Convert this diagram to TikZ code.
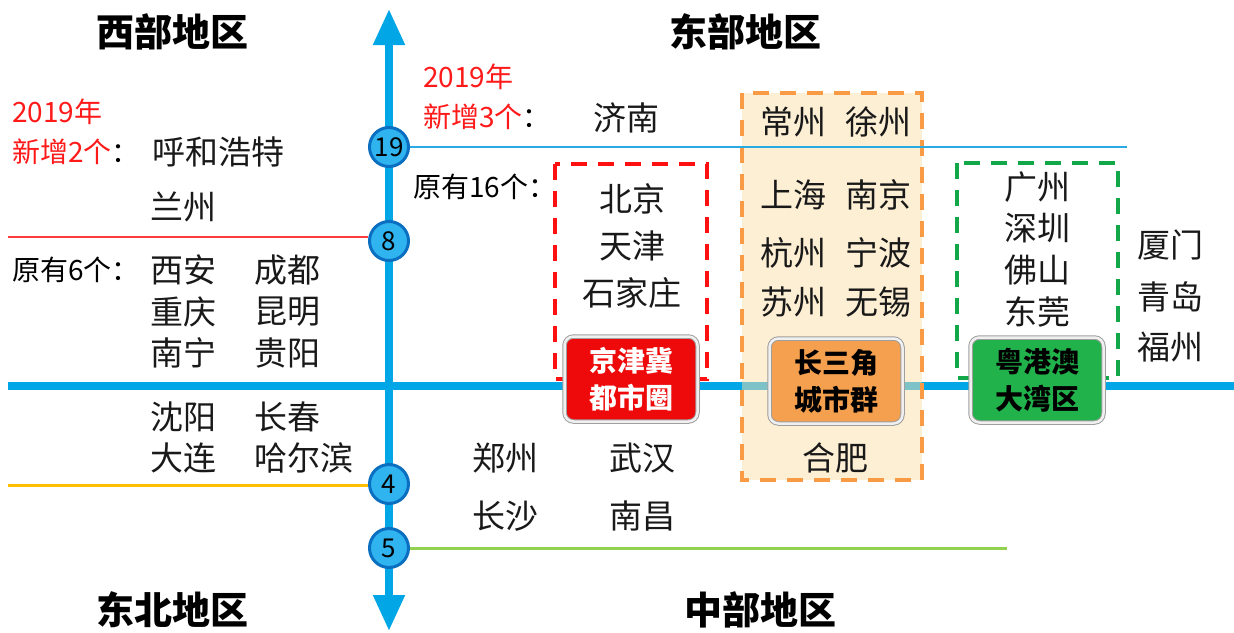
\documentclass[tikz,border=0pt]{standalone}
\usepackage{fontspec}
\setmainfont{Noto Sans CJK SC}
\usetikzlibrary{arrows.meta}
\definecolor{axisblue}{HTML}{00A6E6}
\definecolor{circfill}{HTML}{30B4F0}
\definecolor{circdraw}{HTML}{0A6FC0}
\definecolor{linered}{HTML}{FF3B3B}
\definecolor{lineorange}{HTML}{FFBE00}
\definecolor{linegreen}{HTML}{92D050}
\definecolor{thinblue}{HTML}{2AAAE2}
\definecolor{boxred}{HTML}{FF1010}
\definecolor{boxorange}{HTML}{F99B45}
\definecolor{orangefill}{HTML}{FBDFA8}
\definecolor{boxgreen}{HTML}{12A84A}
\definecolor{btnred}{HTML}{EE0A0A}
\definecolor{btnorange}{HTML}{F5A04E}
\definecolor{btngreen}{HTML}{22B24C}
\definecolor{txtred}{HTML}{FF1A1A}
\tikzset{
  region/.style={font=\fontsize{38}{42}\selectfont\bfseries, text=black},
  city/.style={font=\fontsize{33}{38}\selectfont, text=black!90, inner sep=0pt},
  small/.style={font=\fontsize{28}{32}\selectfont, inner sep=0pt, anchor=west},
  circnode/.style={circle, minimum size=39pt, inner sep=0pt, fill=circfill, draw=circdraw, line width=3pt, font=\fontsize{26}{30}\selectfont},
  btn/.style={rounded corners=9pt, minimum width=133pt, minimum height=85pt, draw=gray!75, line width=1pt, double=gray!12, double distance=2.5pt, align=center, font=\fontsize{28}{37}\selectfont\bfseries, inner sep=0pt},
  dashbox/.style={line width=4pt, dash pattern=on 16pt off 11pt}
}
\begin{document}
\begin{tikzpicture}[x=1pt,y=-1pt]
\useasboundingbox (0,0) rectangle (1234,632);
% main axes
\coordinate (top) at (389,9);
\coordinate (bot) at (389,631);
\coordinate (hl) at (8,386);
\coordinate (hr) at (1234,386);
\draw[axisblue, line width=8pt] (hl) -- (hr);
\draw[axisblue, line width=8pt, {Triangle[width=30pt,length=36pt]}-{Triangle[width=30pt,length=36pt]}] (bot) -- (top);
% orange dashed box
\draw[dashbox, draw=boxorange, fill=orangefill, fill opacity=0.5] (742,93) rectangle (922,480);
% circles
\node[circnode] (c19) at (389,147) {19};
\node[circnode] (c8) at (389,241) {8};
\node[circnode] (c4) at (389,484) {4};
\node[circnode] (c5) at (389,548) {5};
% thin lines
\coordinate (e19) at (1127,147);
\coordinate (e8) at (8,237);
\coordinate (e4) at (8,485);
\coordinate (e5) at (1007,548);
\draw[thinblue, line width=2.5pt] (c19.east) -- (e19);
\draw[linered, line width=2pt] (e8) -- (c8.west |- e8);
\draw[lineorange, line width=3pt] (e4) -- (c4.west |- e4);
\draw[linegreen, line width=3pt] (c5.east) -- (e5);
% dashed boxes
\draw[dashbox, draw=boxred] (555,164) rectangle (707,379);
\draw[dashbox, draw=boxgreen] (957,163) rectangle (1118,378);
% region labels
\node[region] (rw) at (172,32) {西部地区};
\node[region] (re) at (745,32) {东部地区};
\node[region] (rne) at (172,610) {东北地区};
\node[region] (rc) at (760,610) {中部地区};
% west
\node[small, text=txtred] (w19) at (12,112) {2019年};
\node[small] (wnew) at (12,152) {\textcolor{txtred}{新增2个}：};
\node[city] (hhht) at (218,152) {呼和浩特};
\node[city] (lz) at (183,207) {兰州};
\node[small] (wold) at (12,270) {原有6个：};
\node[city, anchor=west] (xa) at (150,270) {西安};
\node[city, anchor=west] (cd) at (254,270) {成都};
\node[city, anchor=west] (cq) at (150,312) {重庆};
\node[city, anchor=west] (km) at (254,312) {昆明};
\node[city, anchor=west] (nn) at (150,353) {南宁};
\node[city, anchor=west] (gy) at (254,353) {贵阳};
% north-east
\node[city, anchor=west] (sy) at (150,417) {沈阳};
\node[city, anchor=west] (cc) at (254,417) {长春};
\node[city, anchor=west] (dl) at (150,458) {大连};
\node[city, anchor=west] (heb) at (254,458) {哈尔滨};
% central
\node[city] (zz) at (505,458) {郑州};
\node[city] (wh) at (642,458) {武汉};
\node[city] (cs) at (505,516) {长沙};
\node[city] (nc) at (642,516) {南昌};
% east
\node[small, text=txtred] (e19t) at (423,77) {2019年};
\node[small] (enew) at (423,117) {\textcolor{txtred}{新增3个}：};
\node[city] (jn) at (626,118) {济南};
\node[small] (eold) at (413,187) {原有16个：};
\node[city] (bj) at (632,199) {北京};
\node[city] (tj) at (632,246) {天津};
\node[city] (sjz) at (632,293) {石家庄};
\node[city] (czh) at (793,122) {常州};
\node[city] (xz) at (878,122) {徐州};
\node[city] (sh) at (793,195) {上海};
\node[city] (nj) at (878,195) {南京};
\node[city] (hz) at (793,253) {杭州};
\node[city] (nb) at (878,253) {宁波};
\node[city] (sz) at (793,302) {苏州};
\node[city] (wx) at (878,302) {无锡};
\node[city] (hf) at (835,458) {合肥};
\node[city] (gz) at (1037,187) {广州};
\node[city] (szh) at (1037,228) {深圳};
\node[city] (fs) at (1037,270) {佛山};
\node[city] (dg) at (1037,312) {东莞};
\node[city] (xm) at (1170,245) {厦门};
\node[city] (qd) at (1170,297) {青岛};
\node[city] (fz) at (1170,347) {福州};
% buttons
\node[btn, fill=btnred, text=white] (jjj) at (631,379) {京津冀\\都市圈};
\node[btn, fill=btnorange, text=black] (csj) at (836,381) {长三角\\城市群};
\node[btn, fill=btngreen, text=black] (ygd) at (1037,380) {粤港澳\\大湾区};
\end{tikzpicture}
\end{document}
